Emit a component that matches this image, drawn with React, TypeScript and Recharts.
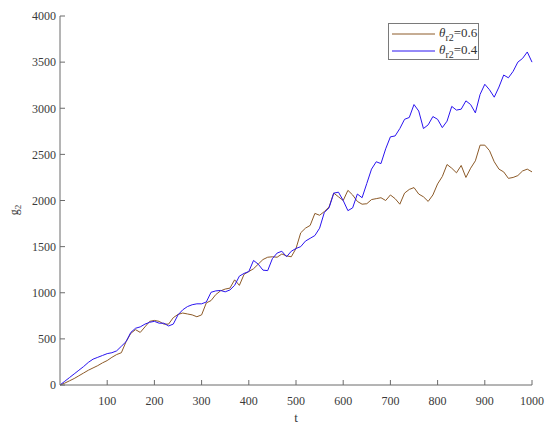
import React from "react";
import { LineChart, Line, XAxis, YAxis, Legend } from "recharts";

// t 轴，每 10 取一个点
const tValues = [
  0, 10, 20, 30, 40, 50, 60, 70, 80, 90, 100, 110, 120, 130, 140, 150, 160, 170, 180, 190,
  200, 210, 220, 230, 240, 250, 260, 270, 280, 290, 300, 310, 320, 330, 340, 350, 360, 370, 380, 390,
  400, 410, 420, 430, 440, 450, 460, 470, 480, 490, 500, 510, 520, 530, 540, 550, 560, 570, 580, 590,
  600, 610, 620, 630, 640, 650, 660, 670, 680, 690, 700, 710, 720, 730, 740, 750, 760, 770, 780, 790,
  800, 810, 820, 830, 840, 850, 860, 870, 880, 890, 900, 910, 920, 930, 940, 950, 960, 970, 980, 990,
  1000,
];

// theta_r2 = 0.6
const g2Theta06 = [
  0, 20, 45, 70, 100, 130, 160, 185, 210, 240, 265, 300, 330, 350, 470, 560, 600, 570, 630, 690,
  700, 690, 660, 660, 730, 765, 780, 770, 760, 740, 760, 890, 915, 980, 1020, 1040, 1050, 1140, 1080, 1200,
  1230, 1260, 1310, 1360, 1385, 1390, 1385, 1420, 1400, 1390, 1480, 1650, 1700, 1730, 1860, 1840, 1880, 1930, 2080, 2040,
  2000, 2110, 2060, 1990, 1960, 1965, 2010, 2020, 2030, 2000, 2060, 2020, 1960, 2080, 2120, 2140, 2070, 2040, 1990, 2060,
  2180, 2260, 2390, 2350, 2300, 2380, 2250, 2350, 2430, 2600, 2600, 2540, 2420, 2340, 2310, 2240, 2250, 2270, 2320, 2340,
  2310,
];

// theta_r2 = 0.4
const g2Theta04 = [
  0, 40, 80, 120, 160, 200, 245, 280, 300, 320, 340, 350, 370, 420, 470, 570, 615, 630, 660, 680,
  690, 670, 670, 640, 660, 760, 815, 850, 870, 880, 880, 900, 1005, 1020, 1025, 1010, 1030, 1080, 1180, 1210,
  1230, 1350, 1310, 1245, 1240, 1370, 1430, 1450, 1390, 1450, 1480, 1500, 1560, 1590, 1620, 1700, 1870, 1920, 2080, 2090,
  2000, 1890, 1920, 2070, 2030, 2185, 2340, 2420, 2400, 2560, 2690, 2700, 2780, 2880, 2900, 3040, 2970, 2780, 2820, 2910,
  2880, 2790, 2860, 3020, 2980, 2990, 3080, 3040, 2950, 3150, 3260, 3200, 3120, 3230, 3360, 3330, 3400, 3500, 3540, 3610,
  3500,
];

const xTicks = [100, 200, 300, 400, 500, 600, 700, 800, 900, 1000];
const yTicks = [0, 500, 1000, 1500, 2000, 2500, 3000, 3500, 4000];

const data = tValues.map((t, i) => ({ t, a: g2Theta06[i], b: g2Theta04[i] }));

const BROWN = "#8c5a28";
const BLUE = "#2a14f0";
const AXIS = "#6b6b6b";
const FONT = "Liberation Serif";

function LegendBox() {
  const row = (color: string, val: string) => (
    <div style={{ display: "flex", alignItems: "center", height: 17 }}>
      <svg width={44} height={10} style={{ marginLeft: 3 }}>
        <line x1={0} y1={5} x2={43} y2={5} stroke={color} strokeWidth={1} />
      </svg>
      <span style={{ fontFamily: FONT, fontSize: 13, color: "#333", marginLeft: 3, whiteSpace: "nowrap" }}>
        <i>θ</i>
        <sub style={{ fontSize: 10 }}>r2</sub>=0.{val}
      </span>
    </div>
  );
  return (
    <div
      style={{
        background: "#fff",
        border: "1px solid #7a7a7a",
        width: 91,
        height: 37,
        paddingTop: 1,
        boxSizing: "border-box",
      }}
    >
      {row(BROWN, "6")}
      {row(BLUE, "4")}
    </div>
  );
}

export default function App() {
  return (
    <div
      style={{ position: "absolute", left: 0, top: 0, width: 550, height: 432, background: "#fff", fontFamily: FONT }}
    >
      <LineChart
        width={550}
        height={432}
        data={data}
        margin={{ top: 16, right: 18, left: 0, bottom: 0 }}
        style={{ fontFamily: FONT }}
      >
        <XAxis
          dataKey="t"
          type="number"
          domain={[0, 1000]}
          ticks={xTicks}
          height={47}
          stroke={AXIS}
          tickSize={-5}
          tickMargin={16}
          tick={{ fill: "#3a3a3a", fontSize: 12, fontFamily: FONT }}
          label={{ value: "t", position: "insideBottom", offset: 10, fill: "#3a3a3a", fontSize: 13, fontFamily: FONT }}
        />
        <XAxis
          xAxisId="top"
          orientation="top"
          dataKey="t"
          type="number"
          domain={[0, 1000]}
          ticks={xTicks}
          height={0}
          stroke={AXIS}
          tickSize={-5}
          tick={false}
        />
        <YAxis
          type="number"
          domain={[0, 4000]}
          ticks={yTicks}
          width={60}
          stroke={AXIS}
          tickSize={-5}
          tickMargin={9}
          tick={{ fill: "#3a3a3a", fontSize: 12, fontFamily: FONT }}
          label={{
            content: () => (
              <text x={18} y={210} transform="rotate(-90 18 210)" textAnchor="middle" fill="#3a3a3a" fontFamily={FONT} fontSize={12}>
                g<tspan fontSize={9} dy={3}>2</tspan>
              </text>
            ),
          }}
        />
        <YAxis
          yAxisId="right"
          orientation="right"
          type="number"
          domain={[0, 4000]}
          ticks={yTicks}
          width={0}
          stroke={AXIS}
          tickSize={-5}
          tick={false}
        />
        <Legend
          layout="horizontal"
          align="center"
          verticalAlign="middle"
          content={() => <LegendBox />}
          wrapperStyle={{ left: 388, top: 23, width: 92, height: 38 }}
        />
        <Line type="linear" dataKey="a" stroke={BROWN} strokeWidth={1} dot={false} isAnimationActive={false} />
        <Line type="linear" dataKey="b" stroke={BLUE} strokeWidth={1} dot={false} isAnimationActive={false} />
      </LineChart>
    </div>
  );
}
